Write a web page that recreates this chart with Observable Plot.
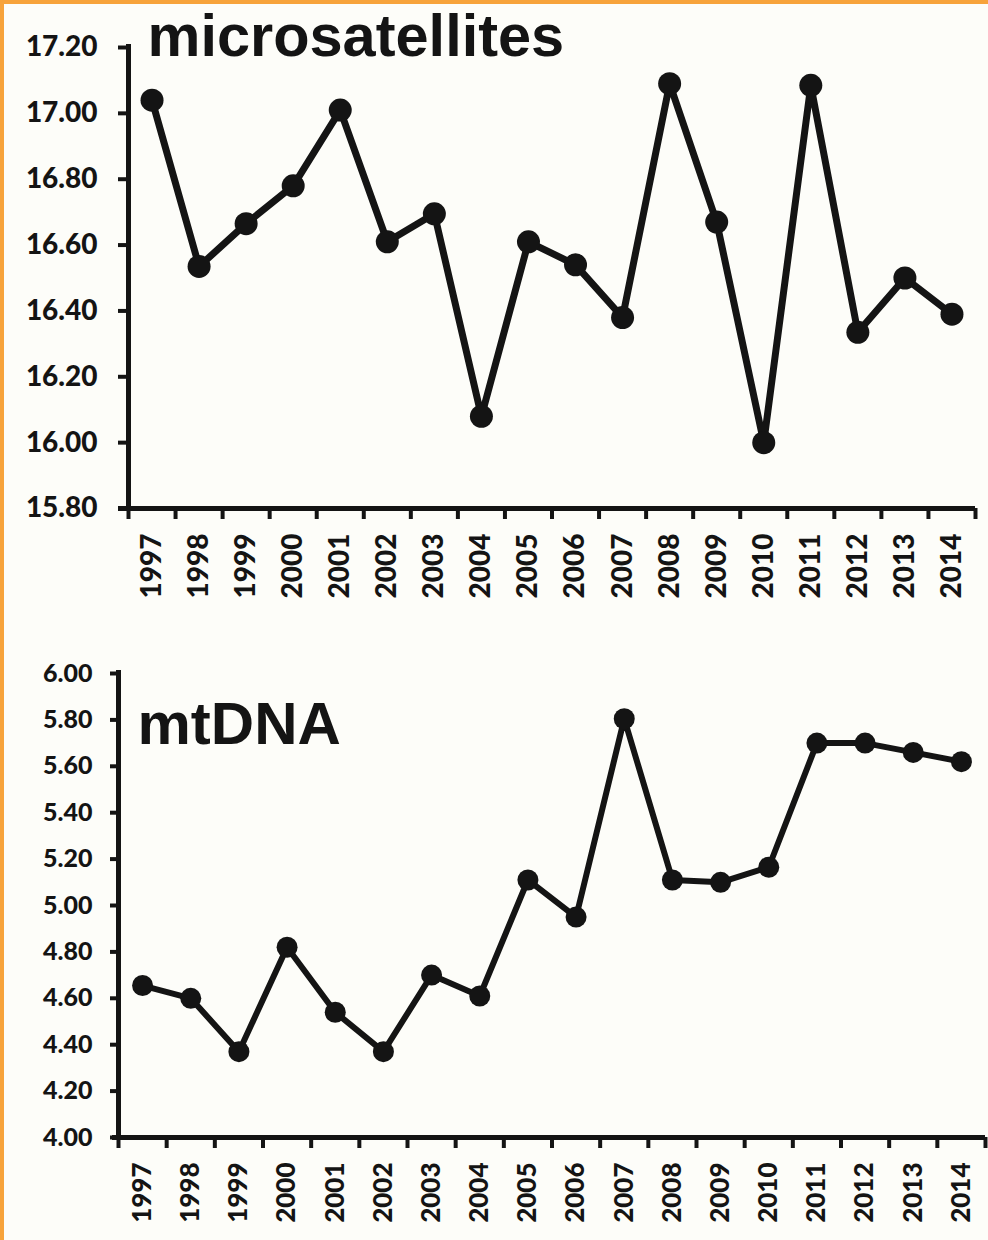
<!DOCTYPE html>
<html>
<head>
<meta charset="utf-8">
<script src="https://cdn.jsdelivr.net/npm/d3@7"></script>
<script src="https://cdn.jsdelivr.net/npm/@observablehq/plot@0.6"></script>
<style>
  html, body { margin: 0; padding: 0; background: #fdfdf9; }
  #page { position: relative; width: 988px; height: 1240px; background: #fdfdf9; overflow: hidden; }
  #page svg { position: absolute; left: 0; background: transparent; }
  .edge-top { position: absolute; left: 0; top: 0; width: 988px; height: 4px; background: #f7a33b; }
  .edge-left { position: absolute; left: 0; top: 0; width: 4px; height: 1240px; background: #f7a33b; }
</style>
</head>
<body>
<div id="page"></div>
<script>
// Sampling years shared by both panels
const years = [1997, 1998, 1999, 2000, 2001, 2002, 2003, 2004, 2005,
               2006, 2007, 2008, 2009, 2010, 2011, 2012, 2013, 2014];

// Microsatellite diversity per year
const microsatellites = [17.04, 16.535, 16.665, 16.78, 17.01, 16.61, 16.695, 16.08, 16.61,
                         16.54, 16.38, 17.09, 16.67, 16.00, 17.085, 16.335, 16.50, 16.39];

// mtDNA diversity per year
const mtdna = [4.655, 4.60, 4.37, 4.82, 4.54, 4.37, 4.70, 4.61, 5.11,
               4.95, 5.805, 5.11, 5.10, 5.165, 5.70, 5.70, 5.66, 5.62];

// Y tick values
const microTicks = [15.8, 16.0, 16.2, 16.4, 16.6, 16.8, 17.0, 17.2];
const mtTicks = [4.0, 4.2, 4.4, 4.6, 4.8, 5.0, 5.2, 5.4, 5.6, 5.8, 6.0];

// Panel titles
const microTitle = "microsatellites";
const mtTitle = "mtDNA";

const labelFont = "Lato, 'Open Sans', sans-serif";
const titleFont = "'Liberation Sans', Arial, sans-serif";
const ink = "#141414";

// Year tick marks sit between the years; labels sit on the years
const boundaries = years.map(y => y - 0.5).concat([years[years.length - 1] + 0.5]);

function panel({values, ticks, title, height, margins, yFont, xFont, yPad, yTick,
                lineWidth, r, titleDx, titleDy, titleSize, axisInset}) {
  const data = years.map((year, i) => ({year, value: values[i]}));
  return Plot.plot({
    width: 988,
    height,
    ...margins,
    style: {background: "transparent", color: ink, overflow: "visible"},
    x: {type: "linear", domain: [boundaries[0], boundaries[boundaries.length - 1]], axis: null},
    y: {domain: [ticks[0], ticks[ticks.length - 1]], axis: null},
    marks: [
      // y axis ticks and labels
      Plot.axisY(ticks, {
        anchor: "left", tickSize: yTick, tickPadding: yPad, strokeWidth: 4,
        tickFormat: d => d.toFixed(2), fontSize: yFont, fontWeight: 900,
        fontFamily: labelFont, label: null, stroke: ink, fill: ink
      }),
      // x tick marks between the years
      Plot.axisX(boundaries, {
        anchor: "bottom", tickSize: 11, strokeWidth: 4, tickFormat: () => "", label: null, stroke: ink
      }),
      // rotated year labels
      Plot.axisX(years, {
        anchor: "bottom", tickSize: 0, tickPadding: 25, tickRotate: -90,
        tickFormat: d => String(d), fontSize: xFont, fontWeight: 900,
        fontFamily: labelFont, label: null, fill: ink
      }),
      // axis lines
      Plot.ruleY([ticks[0]], {stroke: ink, strokeWidth: 5, insetLeft: -axisInset}),
      Plot.ruleX([boundaries[0]], {stroke: ink, strokeWidth: 5, insetTop: -3}),
      // series
      Plot.line(data, {x: "year", y: "value", stroke: ink, strokeWidth: lineWidth}),
      Plot.dot(data, {x: "year", y: "value", r, fill: ink, stroke: "none"}),
      // panel title
      Plot.text([title], {
        frameAnchor: "top-left", textAnchor: "start", lineAnchor: "bottom",
        dx: titleDx, dy: titleDy, fontSize: titleSize, fontWeight: 700,
        fontFamily: titleFont, fill: ink
      })
    ]
  });
}

const page = document.getElementById("page");

const microChart = panel({
  values: microsatellites, ticks: microTicks, title: microTitle, height: 620,
  margins: {marginLeft: 128, marginRight: 13, marginTop: 47, marginBottom: 112},
  yFont: 28, xFont: 28, yPad: 21, yTick: 10, lineWidth: 7, r: 11.5,
  titleDx: 19, titleDy: 8, titleSize: 59.5, axisInset: 10
});
microChart.style.top = "0px";
page.appendChild(microChart);

const mtChart = panel({
  values: mtdna, ticks: mtTicks, title: mtTitle, height: 620,
  margins: {marginLeft: 118, marginRight: 3, marginTop: 53, marginBottom: 103},
  yFont: 25, xFont: 26, yPad: 18, yTick: 8, lineWidth: 6, r: 10.5,
  titleDx: 19, titleDy: 70, titleSize: 60, axisInset: 6
});
mtChart.style.top = "620px";
page.appendChild(mtChart);

// orange frame edges
const edgeTop = document.createElement("div");
edgeTop.className = "edge-top";
const edgeLeft = document.createElement("div");
edgeLeft.className = "edge-left";
page.appendChild(edgeTop);
page.appendChild(edgeLeft);
</script>
</body>
</html>
